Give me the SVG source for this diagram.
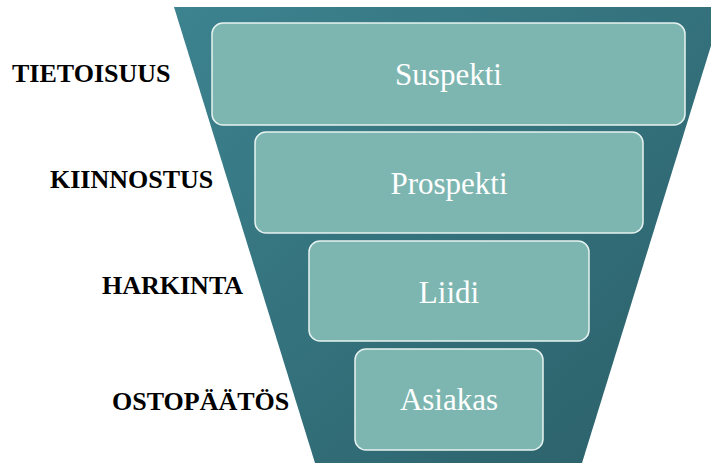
<svg xmlns="http://www.w3.org/2000/svg" width="711" height="463" viewBox="0 0 711 463">
<defs>
<linearGradient id="fg" x1="0" y1="0" x2="1" y2="1">
<stop offset="0" stop-color="#3c838f"/>
<stop offset="1" stop-color="#2b5f68"/>
</linearGradient>
<style>
.box{fill:#7db6b1;stroke:#e6f2f0;stroke-width:1.5}
.bt{font-family:"Liberation Serif",serif;font-size:31px;fill:#ffffff;text-anchor:middle}
.lb{font-family:"Liberation Serif",serif;font-size:26px;font-weight:bold;fill:#000000}
</style>
</defs>
<rect width="711" height="463" fill="#ffffff"/>
<g id="funnel">
<polygon points="174,7 723,7 582,463 315,463" fill="url(#fg)"/>
</g>
<g id="suspekti">
<rect class="box" x="212" y="23" width="473" height="102" rx="11"/>
<text class="bt" x="448.5" y="85">Suspekti</text>
</g>
<g id="prospekti">
<rect class="box" x="255" y="132" width="388" height="101" rx="11"/>
<text class="bt" x="449" y="194">Prospekti</text>
</g>
<g id="liidi">
<rect class="box" x="309" y="241" width="280" height="100" rx="11"/>
<text class="bt" x="449" y="303">Liidi</text>
</g>
<g id="asiakas">
<rect class="box" x="355" y="349" width="188" height="101" rx="11"/>
<text class="bt" x="449" y="410">Asiakas</text>
</g>
<g id="labels">
<text class="lb" x="12" y="82">TIETOISUUS</text>
<text class="lb" x="50" y="188">KIINNOSTUS</text>
<text class="lb" x="102" y="294">HARKINTA</text>
<text class="lb" x="112" y="410">OSTOPÄÄTÖS</text>
</g>
<g id="connectors"/>
</svg>
